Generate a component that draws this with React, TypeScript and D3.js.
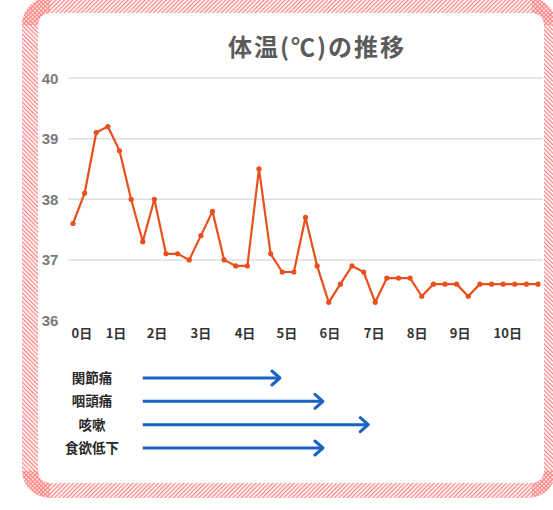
import React from 'react';
import * as d3 from 'd3';

// body temperature readings, in order
const temps = [
  37.6, 38.1, 39.1, 39.2, 38.8, 38.0, 37.3, 38.0, 37.1, 37.1,
  37.0, 37.4, 37.8, 37.0, 36.9, 36.9, 38.5, 37.1, 36.8, 36.8,
  37.7, 36.9, 36.3, 36.6, 36.9, 36.8, 36.3, 36.7, 36.7, 36.7,
  36.4, 36.6, 36.6, 36.6, 36.4, 36.6, 36.6, 36.6, 36.6, 36.6, 36.6
];

const yTicks = [36, 37, 38, 39, 40];
const gridTicks = [37, 38, 39, 40];

const dayLabels = ['0日', '1日', '2日', '3日', '4日', '5日', '6日', '7日', '8日', '9日', '10日'];
// where each day label sits, in reading-index units
const dayPos = [0.77, 3.7, 7.23, 11.0, 14.8, 18.4, 22.1, 25.9, 29.6, 33.3, 37.4];

const symptoms = ['関節痛', '咽頭痛', '咳嗽', '食欲低下'];
const symptomStart = [6, 6, 6, 6];
const symptomEnd = [17.8, 21.5, 25.4, 21.5];

const W = 553;
const H = 510;

export default function App() {
  const x = d3.scaleLinear().domain([0, temps.length - 1]).range([73, 538]);
  const y = d3.scaleLinear().domain([36, 40]).range([320.5, 78]);
  const ySym = d3.scalePoint().domain(symptoms).range([378, 448]);

  const line = d3.line<number>()
    .x((d, i) => x(i))
    .y(d => y(d));

  const lineColor = '#e8501c';
  const arrowColor = '#1a62c2';

  // frame ring (outer rounded rect minus inner one)
  const ring = d3.path();
  const rr = (p, x0, y0, w, h, r) => {
    p.moveTo(x0 + r, y0);
    p.lineTo(x0 + w - r, y0);
    p.arcTo(x0 + w, y0, x0 + w, y0 + r, r);
    p.lineTo(x0 + w, y0 + h - r);
    p.arcTo(x0 + w, y0 + h, x0 + w - r, y0 + h, r);
    p.lineTo(x0 + r, y0 + h);
    p.arcTo(x0, y0 + h, x0, y0 + h - r, r);
    p.lineTo(x0, y0 + r);
    p.arcTo(x0, y0, x0 + r, y0, r);
    p.closePath();
  };
  rr(ring, 22, -3, 534, 501, 28);
  rr(ring, 38, 13, 506, 470, 12);

  return (
    <svg width={W} height={H} style={{ position: 'absolute', left: 0, top: 0, background: '#fff' }}>
      <defs>
        <pattern id="hatchH" width="3" height="3" patternUnits="userSpaceOnUse" patternTransform="rotate(45)">
          <rect width="1.3" height="3" fill="#ff8383" />
        </pattern>
        <pattern id="hatchV" width="3" height="3" patternUnits="userSpaceOnUse" patternTransform="rotate(-45)">
          <rect width="1.3" height="3" fill="#ff8383" />
        </pattern>
        <clipPath id="clipV">
          <rect x="0" y="0" width="50" height={H} />
          <rect x="532" y="0" width="30" height={H} />
        </clipPath>
        <clipPath id="clipH">
          <rect x="0" y="-5" width={W} height="30" />
          <rect x="0" y="471" width={W} height="40" />
        </clipPath>
      </defs>

      <path d={ring.toString()} fill="url(#hatchV)" fillRule="evenodd" clipPath="url(#clipV)" />
      <path d={ring.toString()} fill="url(#hatchH)" fillRule="evenodd" clipPath="url(#clipH)" />

      <text x={317} y={45} textAnchor="middle" dominantBaseline="central" letterSpacing={2}
        fontFamily="'Noto Sans CJK JP', sans-serif" fontSize={24} fontWeight="bold" fill="#5b5b5b">
        体温(℃)の推移
      </text>

      {gridTicks.map(t => (
        <line key={t} x1={68} x2={543} y1={y(t)} y2={y(t)} stroke="#dedede" strokeWidth={1.5} />
      ))}

      {yTicks.map(t => (
        <text key={t} x={50} y={y(t)} textAnchor="middle" dominantBaseline="central"
          fontFamily="'Liberation Sans Narrow', 'Liberation Sans', sans-serif" fontSize={15}
          fontWeight="bold" fill="#7a7a7a">
          {t}
        </text>
      ))}

      <path d={line(temps) || ''} fill="none" stroke={lineColor} strokeWidth={2.2} strokeLinejoin="round" />
      {temps.map((t, i) => (
        <circle key={i} cx={x(i)} cy={y(t)} r={2.6} fill={lineColor} />
      ))}

      {dayLabels.map((d, i) => (
        <text key={d} x={x(dayPos[i])} y={332} textAnchor="middle" dominantBaseline="central"
          fontFamily="'Noto Sans CJK JP', sans-serif" fontSize={13} fontWeight="bold" fill="#333">
          {d}
        </text>
      ))}

      {symptoms.map((s, i) => {
        const yy = ySym(s);
        const x0 = x(symptomStart[i]);
        const x1 = x(symptomEnd[i]);
        return (
          <g key={s}>
            <text x={92} y={yy - 1} textAnchor="middle" dominantBaseline="central"
              fontFamily="'Noto Sans CJK JP', sans-serif" fontSize={13.5} fontWeight="bold" fill="#2a2a2a">
              {s}
            </text>
            <line x1={x0} x2={x1 - 1.5} y1={yy} y2={yy} stroke={arrowColor} strokeWidth={3} />
            <path d={`M${x1 - 8},${yy - 7} L${x1},${yy} L${x1 - 8},${yy + 7}`} fill="none"
              stroke={arrowColor} strokeWidth={3} strokeLinecap="round" strokeLinejoin="round" />
          </g>
        );
      })}
    </svg>
  );
}
